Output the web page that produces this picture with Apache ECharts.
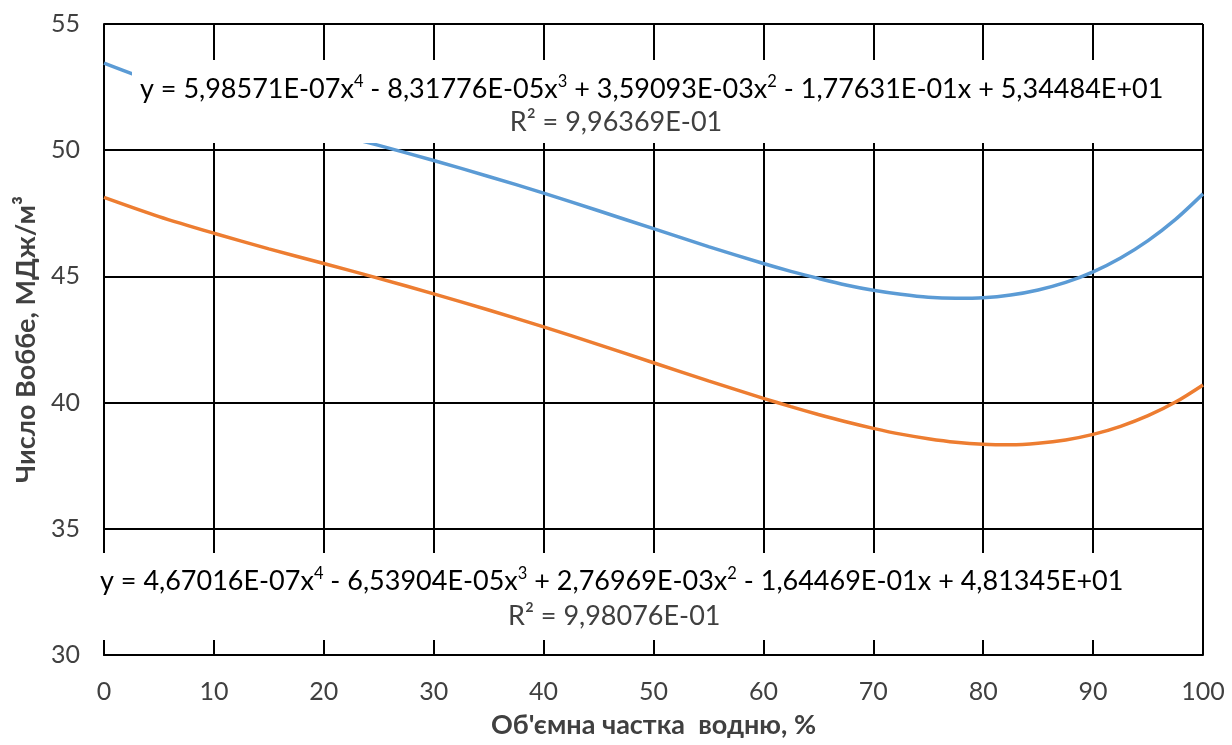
<!DOCTYPE html>
<html>
<head>
<meta charset="utf-8">
<script src="https://cdn.jsdelivr.net/npm/echarts@6/dist/echarts.min.js"></script>
<style>
html,body{margin:0;padding:0;background:#fff;}
#chart{width:1232px;height:745px;}
</style>
</head>
<body>
<div id="chart"></div>
<script>
// Data
const xValues = [0,5,10,15,20,25,30,35,40,45,50,55,60,62.5,65,67.5,70,72.5,75,77.5,80,82.5,85,87.5,90,92.5,95,97.5,100];
const blueValues = [53.45,52.64,51.95,51.34,50.76,50.19,49.59,48.96,48.30,47.60,46.89,46.18,45.51,45.20,44.92,44.66,44.45,44.29,44.17,44.13,44.15,44.26,44.46,44.76,45.18,45.73,46.42,47.26,48.27];
const orangeValues = [48.13,47.37,46.71,46.09,45.51,44.92,44.31,43.67,43.00,42.30,41.58,40.86,40.17,39.84,39.53,39.24,38.98,38.75,38.57,38.43,38.35,38.33,38.39,38.52,38.74,39.06,39.48,40.02,40.70];
const xTitle = "Об'ємна частка  водню, %";
const yTitle = "Число Воббе, МДж/м³";
const eqBlue = ["y = 5,98571E-07x","4"," - 8,31776E-05x","3"," + 3,59093E-03x","2"," - 1,77631E-01x + 5,34484E+01"];
const r2Blue = "R² = 9,96369E-01";
const eqOrange = ["y = 4,67016E-07x","4"," - 6,53904E-05x","3"," + 2,76969E-03x","2"," - 1,64469E-01x + 4,81345E+01"];
const r2Orange = "R² = 9,98076E-01";

const FONT = 'Lato, "Open Sans", sans-serif';
const TXT = '#404040';
function eqText(parts){
  let s = '';
  parts.forEach((p,i)=>{ s += (i%2===0) ? '{n|'+p+'}' : '{s|'+p+'}'; });
  return s;
}
const rich = {
  n:{fontSize:27,fontFamily:FONT,color:TXT,lineHeight:30,verticalAlign:'bottom'},
  s:{fontSize:16.5,fontFamily:FONT,color:TXT,lineHeight:30,verticalAlign:'top',padding:[0,0,10,0]}
};

const chart = echarts.init(document.getElementById('chart'), null, {renderer:'canvas'});
chart.setOption({
  animation:false,
  backgroundColor:'#fff',
  grid:{left:104,right:29,top:24,bottom:90,containLabel:false},
  xAxis:{
    type:'value',min:0,max:100,interval:10,
    name:xTitle,nameLocation:'middle',nameGap:57,
    nameTextStyle:{fontSize:27,fontWeight:'bold',fontFamily:FONT,color:TXT},
    axisLine:{show:true,lineStyle:{color:'#000',width:2}},
    axisTick:{show:false},
    axisLabel:{fontSize:25,fontFamily:FONT,color:TXT,margin:24},
    splitLine:{show:true,lineStyle:{color:'#000',width:2}}
  },
  yAxis:{
    type:'value',min:30,max:55,interval:5,
    name:yTitle,nameLocation:'middle',nameGap:64,
    nameTextStyle:{fontSize:27,fontWeight:'bold',fontFamily:FONT,color:TXT},
    axisLine:{show:true,lineStyle:{color:'#000',width:2}},
    axisTick:{show:false},
    axisLabel:{fontSize:25,fontFamily:FONT,color:TXT,margin:24},
    splitLine:{show:true,lineStyle:{color:'#000',width:2}}
  },
  series:[
    {type:'line',name:'blue',data:xValues.map((x,i)=>[x,blueValues[i]]),smooth:0.3,showSymbol:false,
     lineStyle:{color:'#5B9BD5',width:3.5},itemStyle:{color:'#5B9BD5'},z:3},
    {type:'line',name:'orange',data:xValues.map((x,i)=>[x,orangeValues[i]]),smooth:0.3,showSymbol:false,
     lineStyle:{color:'#ED7D31',width:3.5},itemStyle:{color:'#ED7D31'},z:3}
  ],
  graphic:[
    {type:'rect',z:100,shape:{x:132,y:60,width:1055,height:83},style:{fill:'#fff'}},
    {type:'text',z:101,left:140,top:73,style:{text:eqText(eqBlue),rich:rich}},
    {type:'text',z:101,left:'center',top:109,style:{text:r2Blue,font:'27px '+FONT,fill:TXT}},
    {type:'rect',z:100,shape:{x:95,y:553,width:1065,height:87},style:{fill:'#fff'}},
    {type:'text',z:101,left:100,top:565,style:{text:eqText(eqOrange),rich:rich}},
    {type:'text',z:101,left:508,top:603,style:{text:r2Orange,font:'27px '+FONT,fill:TXT}}
  ]
});
</script>
</body>
</html>
